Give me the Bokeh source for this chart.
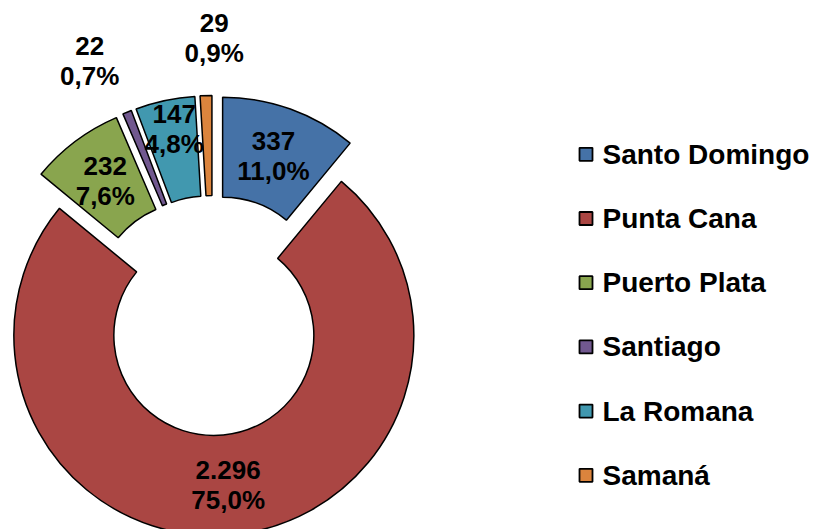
import math
from bokeh.plotting import figure
from bokeh.models import Range1d, ColumnDataSource
from bokeh.core.properties import value
from bokeh.embed import file_html
from bokeh.resources import INLINE

# ---- data ----
cities = ["Santo Domingo", "Punta Cana", "Puerto Plata", "Santiago", "La Romana", "Samaná"]
visitors = [337, 2296, 232, 22, 147, 29]
colors = ["#4572A7", "#AA4643", "#89A54E", "#71588F", "#4198AF", "#DB843D"]

# ---- layout / style (pixels) ----
explode = [29, 11, 29, 29, 29, 29]
label_r = [150, 150, 150, 262, 170, 258]
label_shift = [0, 0, 0, -3.4, 1.0, 2.2]  # degrees
W, H = 820, 529
CX, CY = 212.3, 529 - 324
R_OUT, R_IN = 200, 100
FONT = "Liberation Sans"

total = sum(visitors)
xs, ys, starts, ends, lx, ly, vtxt, ptxt = [], [], [], [], [], [], [], []
cum = 0
for v, e, lr, sh in zip(visitors, explode, label_r, label_shift):
    a0 = cum / total * 360.0
    a1 = (cum + v) / total * 360.0
    mid = math.radians((a0 + a1) / 2)
    cx = CX + e * math.sin(mid)
    cy = CY + e * math.cos(mid)
    xs.append(cx)
    ys.append(cy)
    starts.append(math.radians(90 - a1))
    ends.append(math.radians(90 - a0))
    lm = mid + math.radians(sh)
    lx.append(cx + lr * math.sin(lm))
    ly.append(cy + lr * math.cos(lm))
    vtxt.append(f"{v:,}".replace(",", "."))
    ptxt.append(f"{v / total * 100:.1f}".replace(".", ",") + "%")
    cum += v

src = ColumnDataSource(dict(x=xs, y=ys, start=starts, end=ends, color=colors,
                            city=cities, lx=lx, ly=ly, vt=vtxt, pt=ptxt))

p = figure(width=W, height=H, output_backend="svg", toolbar_location=None,
           x_range=Range1d(0, W), y_range=Range1d(529 - H, 529),
           x_axis_location=None, y_axis_location=None, min_border=0)
p.grid.visible = False
p.outline_line_color = None
p.background_fill_color = "white"
p.border_fill_color = "white"

p.annular_wedge(x="x", y="y", inner_radius=R_IN, outer_radius=R_OUT,
                start_angle="start", end_angle="end", direction="anticlock",
                fill_color="color", line_color="black", line_width=1.5, source=src)

p.text(x="lx", y="ly", text="vt", source=src, text_align="center", text_baseline="middle",
       y_offset=-15, text_font=value(FONT), text_font_style="bold",
       text_font_size="26px", text_color="black")
p.text(x="lx", y="ly", text="pt", source=src, text_align="center", text_baseline="middle",
       y_offset=15, text_font=value(FONT), text_font_style="bold",
       text_font_size="26px", text_color="black")

# legend (manual)
row0, step = 529 - 153.8, 64.2
leg_y = [row0 - i * step for i in range(len(cities))]
leg = ColumnDataSource(dict(y=leg_y, color=colors, city=cities))
p.rect(x=585.5, y="y", width=13, height=13, width_units="screen", height_units="screen",
       fill_color="color", line_color="black", line_width=1.8, source=leg)
p.text(x=602, y="y", text="city", source=leg, text_align="left", text_baseline="middle",
       text_font=value(FONT), text_font_style="bold", text_font_size="28px", text_color="black")

open("out.html", "w").write(file_html(p, INLINE))
